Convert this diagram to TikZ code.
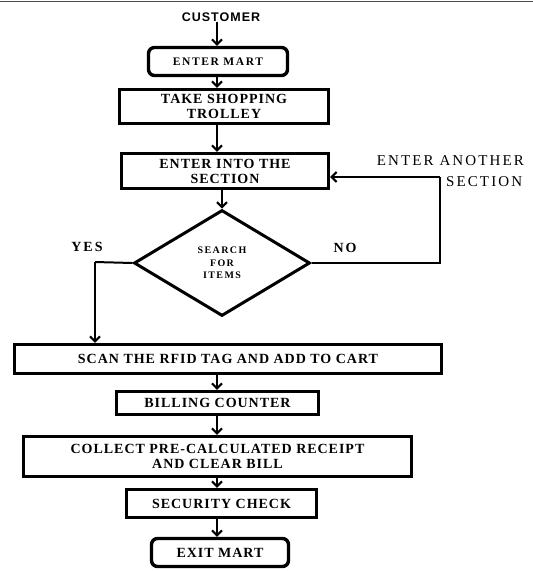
\documentclass[tikz,border=0pt]{standalone}
\usepackage{fontspec}
\setmainfont{Liberation Serif}
\newfontfamily\wserif[LetterSpace=7]{Liberation Serif}
\newfontfamily\xserif[LetterSpace=14]{Liberation Serif}
\newfontfamily\wsans[LetterSpace=8]{Liberation Sans}
\usetikzlibrary{shapes.geometric,arrows.meta}
\tikzset{
  boxst/.style={draw, line width=3.4pt, rectangle, inner sep=0pt, align=center,
     font=\wserif\bfseries\fontsize{14}{15}\selectfont},
  roundst/.style={boxst, rounded corners=6pt},
  arr/.style={line width=2pt, -{Straight Barb[length=5pt,width=10pt,line width=2pt]}},
  plain/.style={line width=2pt},
  lbl/.style={font=\xserif\bfseries\fontsize{14}{16}\selectfont, inner sep=0pt}
}
\begin{document}
\begin{tikzpicture}[x=1pt,y=-1pt]
\useasboundingbox (0,0) rectangle (533,571);
\clip (0,0) rectangle (533,571);
\draw[gray!60!black, line width=1.5pt] (0,1.5) -- (533,1.5);

\node[font=\wsans\bfseries\fontsize{12.5}{14}\selectfont, inner sep=0pt] (cust) at (221,17) {CUSTOMER};
\node[roundst, minimum width=139pt, minimum height=28pt, font=\xserif\bfseries\fontsize{11.5}{13}\selectfont] (mart) at (218,61.5) {ENTER MART};
\node[boxst, minimum width=209pt, minimum height=34pt] (trol) at (224,106.5) {TAKE SHOPPING\\TROLLEY};
\node[boxst, minimum width=207pt, minimum height=35pt] (sec) at (225,171) {ENTER INTO THE\\SECTION};
\node[draw, diamond, line width=3pt, inner sep=0pt, aspect=1.64, minimum width=176pt, minimum height=106pt, align=center,
      font=\xserif\bfseries\fontsize{10}{12.5}\selectfont] (dia) at (222,263) {SEARCH\\FOR\\ITEMS};
\node[boxst, minimum width=427pt, minimum height=29pt] (scan) at (228,359) {SCAN THE RFID TAG AND ADD TO CART};
\node[boxst, minimum width=202pt, minimum height=23pt] (bill) at (217.5,403) {BILLING COUNTER};
\node[boxst, minimum width=388pt, minimum height=40pt] (coll) at (217.5,456.5) {COLLECT PRE-CALCULATED RECEIPT\\AND CLEAR BILL};
\node[boxst, minimum width=190pt, minimum height=28pt] (secu) at (221.5,503.5) {SECURITY CHECK};
\node[roundst, minimum width=137pt, minimum height=28pt] (exit) at (220,552.5) {EXIT MART};

\node[lbl] (yes) at (87,247) {YES};
\node[lbl] (no) at (345,248) {NO};
\node[font=\xserif\fontsize{15}{16}\selectfont, inner sep=0pt, anchor=east] (ea) at (524,161) {ENTER ANOTHER};
\node[font=\xserif\fontsize{15}{16}\selectfont, inner sep=0pt, anchor=west] (es) at (446,182) {SECTION};

\coordinate (sp) at (217,0);
\draw[arr] (cust.south -| sp) -- (mart.north -| sp);
\draw[arr] (mart.south -| sp) -- (trol.north -| sp);
\draw[arr] (trol.south -| sp) -- (sec.north -| sp);
\draw[arr] (sec.south -| dia.north) -- (dia.north);
\draw[arr] (scan.south -| sp) -- (bill.north -| sp);
\draw[arr] (bill.south -| sp) -- (coll.north -| sp);
\draw[arr] (coll.south -| sp) -- (secu.north -| sp);
\draw[arr] (secu.south -| sp) -- (exit.north -| sp);

\coordinate (yl) at (95,262);
\draw[plain] (dia.west) -- (yl);
\draw[arr] (yl) -- (scan.north -| yl);

\coordinate (nr) at (440,177);
\draw[plain] (dia.east) -| (nr);
\draw[arr] (nr) -- (sec.east |- nr);
\end{tikzpicture}
\end{document}
